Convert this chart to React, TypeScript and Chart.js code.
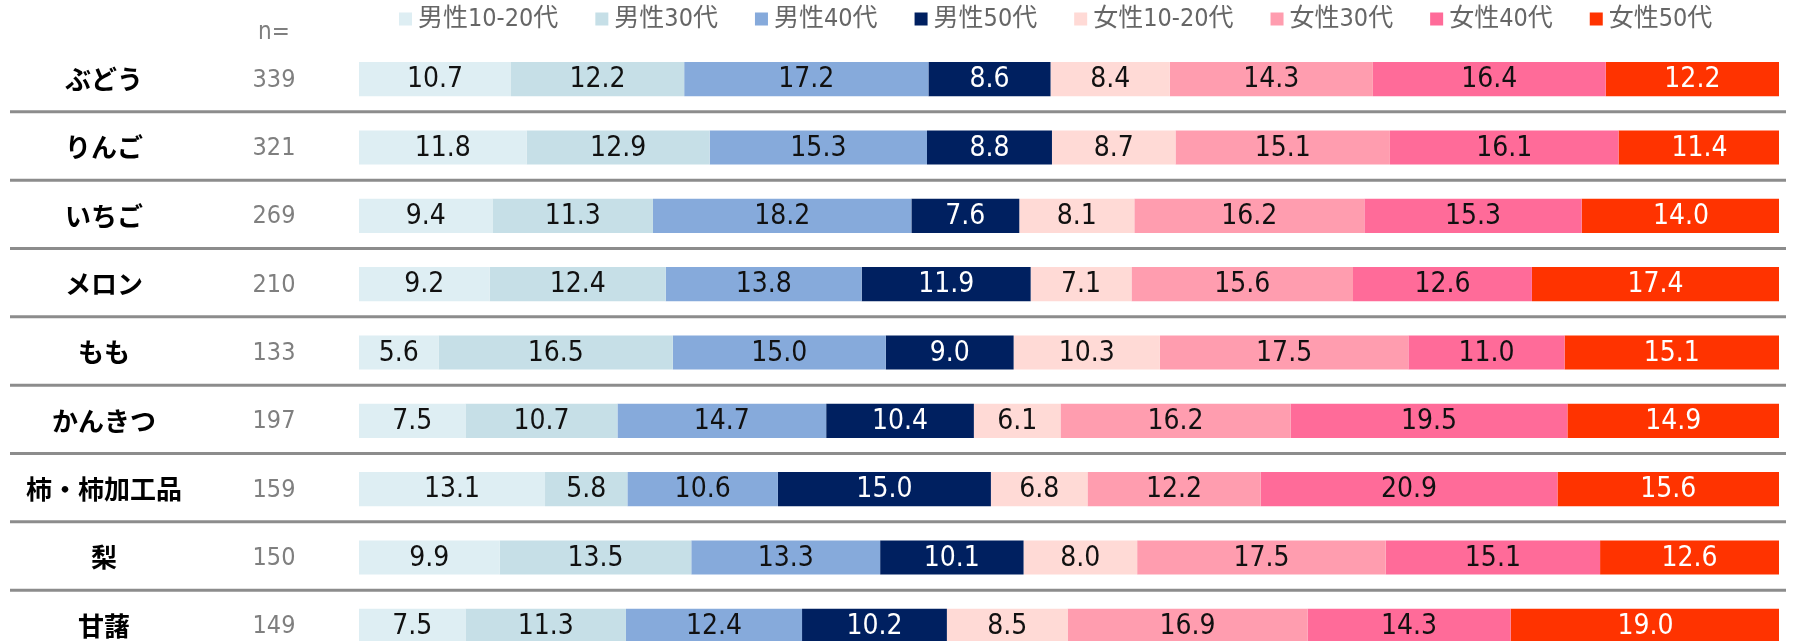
import React, { useEffect, useRef } from "react";
import { Chart, registerables } from "chart.js";

Chart.register(...registerables);

const categories = ["ぶどう", "りんご", "いちご", "メロン", "もも", "かんきつ", "柿・柿加工品", "梨", "甘藷"];
const sampleSizes = [339, 321, 269, 210, 133, 197, 159, 150, 149];
const seriesLabels = ["男性10-20代", "男性30代", "男性40代", "男性50代", "女性10-20代", "女性30代", "女性40代", "女性50代"];
const male1020 = [10.7, 11.8, 9.4, 9.2, 5.6, 7.5, 13.1, 9.9, 7.5];
const male30 = [12.2, 12.9, 11.3, 12.4, 16.5, 10.7, 5.8, 13.5, 11.3];
const male40 = [17.2, 15.3, 18.2, 13.8, 15.0, 14.7, 10.6, 13.3, 12.4];
const male50 = [8.6, 8.8, 7.6, 11.9, 9.0, 10.4, 15.0, 10.1, 10.2];
const female1020 = [8.4, 8.7, 8.1, 7.1, 10.3, 6.1, 6.8, 8.0, 8.5];
const female30 = [14.3, 15.1, 16.2, 15.6, 17.5, 16.2, 12.2, 17.5, 16.9];
const female40 = [16.4, 16.1, 15.3, 12.6, 11.0, 19.5, 20.9, 15.1, 14.3];
const female50 = [12.2, 11.4, 14.0, 17.4, 15.1, 14.9, 15.6, 12.6, 19.0];
const seriesValues = [male1020, male30, male40, male50, female1020, female30, female40, female50];
const seriesColors = ["#DEEEF3", "#C6DFE7", "#86AADB", "#002060", "#FFDAD6", "#FF9DAF", "#FF6B99", "#FF3300"];
const labelColors = ["#111", "#111", "#111", "#fff", "#111", "#111", "#111", "#fff"];

const NUM_FONT = '"DejaVu Sans Condensed", "DejaVu Sans", "Noto Sans CJK JP", sans-serif';
const JP_FONT = '"Noto Sans CJK JP", sans-serif';

const decorPlugin = {
  id: "decor",
  beforeDatasetsDraw(chart: any) {
    const ctx = chart.ctx;
    const yScale = chart.scales.y;
    ctx.save();
    // separators
    ctx.strokeStyle = "#8C8C8C";
    ctx.lineWidth = 3;
    for (let i = 0; i < categories.length - 1; i++) {
      const yy = (yScale.getPixelForValue(i) + yScale.getPixelForValue(i + 1)) / 2 - 1.5;
      ctx.beginPath();
      ctx.moveTo(10, yy);
      ctx.lineTo(1786, yy);
      ctx.stroke();
    }
    // category labels and n
    ctx.textBaseline = "middle";
    ctx.textAlign = "center";
    categories.forEach((c, i) => {
      const yy = yScale.getPixelForValue(i);
      ctx.fillStyle = "#000";
      ctx.font = `bold 26px ${JP_FONT}`;
      ctx.fillText(c, 104, yy);
      ctx.fillStyle = "#7F7F7F";
      ctx.font = `25px ${NUM_FONT}`;
      ctx.fillText(String(sampleSizes[i]), 274, yy + 1);
    });
    ctx.fillStyle = "#7F7F7F";
    ctx.font = `24px ${NUM_FONT}`;
    ctx.fillText("n=", 274, 33);
    // legend
    let x = 399;
    const ly = 19;
    ctx.textAlign = "left";
    ctx.font = `25px ${NUM_FONT}`;
    seriesLabels.forEach((lab, i) => {
      ctx.fillStyle = seriesColors[i];
      ctx.fillRect(x, ly - 6.5, 13, 13);
      ctx.fillStyle = "#666666";
      ctx.fillText(lab, x + 19, ly);
      x += 19 + ctx.measureText(lab).width + 37;
    });
    ctx.restore();
  },
  afterDatasetsDraw(chart: any) {
    const ctx = chart.ctx;
    ctx.save();
    ctx.textAlign = "center";
    ctx.textBaseline = "middle";
    ctx.font = `28px ${NUM_FONT}`;
    chart.data.datasets.forEach((ds: any, di: number) => {
      const meta = chart.getDatasetMeta(di);
      meta.data.forEach((el: any, i: number) => {
        const cx = (el.x + el.base) / 2;
        ctx.fillStyle = labelColors[di];
        ctx.fillText(Number(ds.data[i]).toFixed(1), cx, el.y + 1);
      });
    });
    ctx.restore();
  },
};

export default function App() {
  const ref = useRef<HTMLCanvasElement | null>(null);
  useEffect(() => {
    document.body.style.margin = "0";
    const chart = new Chart(ref.current as HTMLCanvasElement, {
      type: "bar",
      data: {
        labels: categories,
        datasets: seriesValues.map((v, i) => ({
          label: seriesLabels[i],
          data: v,
          backgroundColor: seriesColors[i],
          borderWidth: 0,
          categoryPercentage: 1,
          barPercentage: 0.5,
        })),
      },
      options: {
        indexAxis: "y",
        responsive: false,
        animation: false,
        layout: { padding: { left: 359, right: 19, top: 45, bottom: 0 } },
        plugins: { legend: { display: false }, tooltip: { enabled: false } },
        scales: {
          x: { stacked: true, min: 0, max: 100, display: false },
          y: { stacked: true, display: false },
        },
      },
      plugins: [decorPlugin],
    });
    return () => chart.destroy();
  }, []);
  return (
    <div style={{ width: 1798, height: 641, overflow: "hidden" }}>
      <canvas ref={ref} width={1798} height={660} style={{ display: "block" }} />
    </div>
  );
}
